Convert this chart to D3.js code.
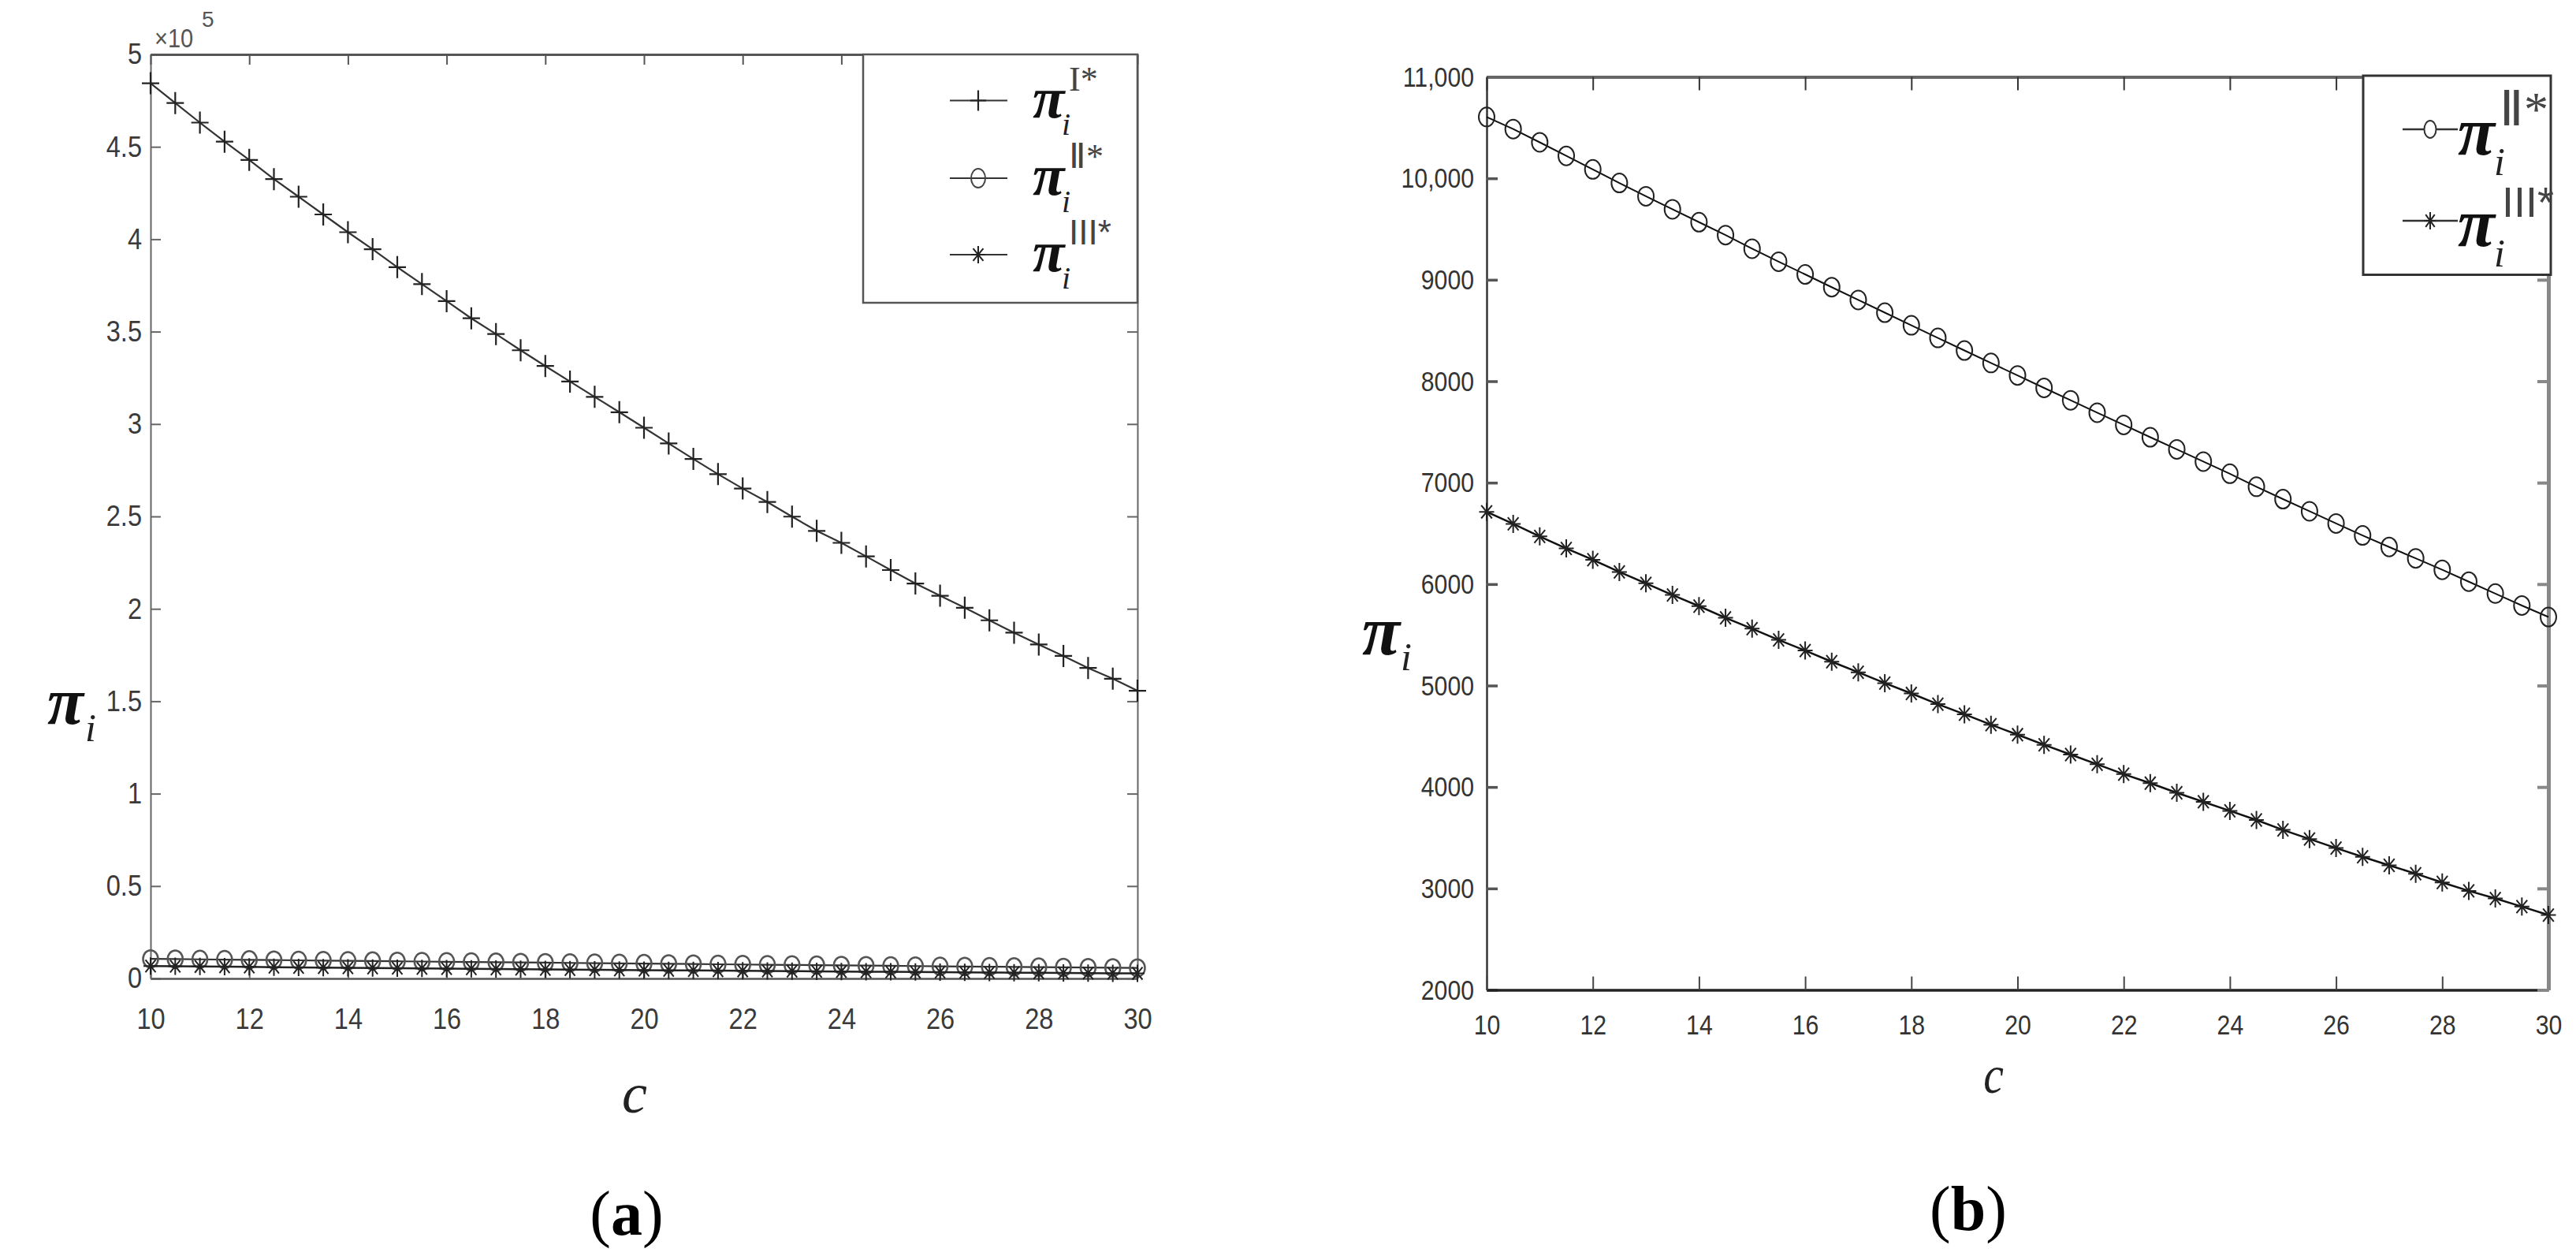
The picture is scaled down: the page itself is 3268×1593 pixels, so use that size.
<!DOCTYPE html>
<html><head><meta charset="utf-8">
<script src="https://cdn.jsdelivr.net/npm/d3@7"></script>
<style>body{margin:0;background:#fff}svg{display:block}</style>
</head><body>
<svg id="chart" width="3268" height="1593"></svg>
<script>
// ---------- data ----------
const cValues = [10,10.5,11,11.5,12,12.5,13,13.5,14,14.5,15,15.5,16,16.5,17,17.5,18,18.5,19,19.5,20,20.5,21,21.5,22,22.5,23,23.5,24,24.5,25,25.5,26,26.5,27,27.5,28,28.5,29,29.5,30];
const piI = [484400,473700,463100,452800,442900,432500,423000,413400,403800,394600,384900,375700,366500,357200,348700,339900,331400,323000,314700,306400,298000,289500,281100,272900,265100,257800,249900,242200,235700,228400,221000,213700,207100,200600,193800,187100,180700,174500,168000,162200,155700];
const piII = [10605,10486,10355,10221,10088,9954,9823,9695,9568,9440,9306,9178,9053,8927,8801,8676,8551,8427,8303,8180,8057,7934,7812,7690,7569,7448,7328,7208,7088,6960,6838,6718,6598,6480,6366,6254,6141,6024,5907,5789,5676];
const piIII = [6712,6594,6470,6352,6240,6120,6008,5893,5783,5668,5561,5450,5345,5235,5131,5024,4922,4817,4717,4614,4516,4416,4320,4224,4127,4038,3943,3854,3765,3675,3577,3487,3398,3312,3228,3145,3059,2976,2901,2821,2738];
const xTicks = [10,12,14,16,18,20,22,24,26,28,30];
const yTicksA = [0,50000,100000,150000,200000,250000,300000,350000,400000,450000,500000];
const yTickLabelsA = ["0","0.5","1","1.5","2","2.5","3","3.5","4","4.5","5"];
const yTicksB = [2000,3000,4000,5000,6000,7000,8000,9000,10000,11000];
const yTickLabelsB = ["2000","3000","4000","5000","6000","7000","8000","9000","10,000","11,000"];
const legendSupA = ["I*","Ⅱ*","III*"];
const legendSupB = ["Ⅱ*","III*"];

// ---------- helpers ----------
const svg = d3.select("#chart");
svg.append("rect").attr("width",3268).attr("height",1593).attr("fill","#fff");
const SERIF = "'Liberation Serif','Times New Roman',serif";
const SANS = "'Liberation Sans',Arial,sans-serif";

function plusPath(cx,cy,w,h){return `M${cx-w/2},${cy}H${cx+w/2}M${cx},${cy-h/2}V${cy+h/2}`;}
function starPath(cx,cy,w,h){
  const a=w*0.36,b=h*0.36;
  return `M${cx-w/2},${cy}H${cx+w/2}M${cx},${cy-h/2}V${cy+h/2}M${cx-a},${cy-b}L${cx+a},${cy+b}M${cx-a},${cy+b}L${cx+a},${cy-b}`;
}

function drawAxes(g, x, y, o){
  const [x0,x1]=x.range(), [y0,y1]=y.range();
  const left = g.append("g").attr("transform",`translate(${x0},0)`)
    .call(d3.axisLeft(y).tickValues(o.yTicks).tickFormat((d,i)=>o.yLabels[i]).tickSizeInner(-o.tickL).tickSizeOuter(0).tickPadding(o.padL));
  left.select(".domain").attr("stroke",o.cLeft).attr("stroke-width",o.wLeft);
  left.selectAll(".tick line").attr("stroke",o.cTickL).attr("stroke-width",o.wTickL);
  left.selectAll(".tick text").attr("font-family",SANS).attr("font-size",o.fs).attr("fill",o.txt)
    .attr("x",-o.padL/o.sx).attr("transform",`scale(${o.sx},1)`);
  const bottom = g.append("g").attr("transform",`translate(0,${y0})`)
    .call(d3.axisBottom(x).tickValues(xTicks).tickFormat(d3.format("d")).tickSizeInner(-o.tickB).tickSizeOuter(0).tickPadding(o.padB));
  bottom.select(".domain").attr("stroke",o.cBottom).attr("stroke-width",o.wBottom);
  bottom.selectAll(".tick line").attr("stroke",o.cTickB).attr("stroke-width",o.wTickB);
  bottom.selectAll(".tick text").attr("font-family",SANS).attr("font-size",o.fs).attr("fill",o.txt)
    .attr("transform",`scale(${o.sx},1)`);
  const top = g.append("g").attr("transform",`translate(0,${y1})`)
    .call(d3.axisTop(x).tickValues(xTicks).tickFormat("").tickSizeInner(-o.tickB).tickSizeOuter(0));
  top.select(".domain").attr("stroke",o.cTop).attr("stroke-width",o.wTop);
  top.selectAll(".tick line").attr("stroke",o.cTickT).attr("stroke-width",o.wTickT);
  const right = g.append("g").attr("transform",`translate(${x1},0)`)
    .call(d3.axisRight(y).tickValues(o.yTicks).tickFormat("").tickSizeInner(-o.tickL).tickSizeOuter(0));
  right.select(".domain").attr("stroke",o.cRight).attr("stroke-width",o.wRight);
  right.selectAll(".tick line").attr("stroke",o.cTickR).attr("stroke-width",o.wTickR);
}

function piLabel(g, x, yBase, fs, sup, supDx, supDy, supFs, supFamily, subDx, subDy, subFs, weight){
  g.append("text").attr("x",x).attr("y",yBase).attr("font-family",SERIF).attr("font-style","italic")
    .attr("font-weight",weight).attr("font-size",fs).attr("fill","#111").text("π");
  if(sup){
    g.append("text").attr("x",x+supDx).attr("y",yBase+supDy).attr("font-family",supFamily)
      .attr("font-size",supFs).attr("fill","#444").text(sup);
  }
  g.append("text").attr("x",x+subDx).attr("y",yBase+subDy).attr("font-family",SERIF).attr("font-style","italic")
    .attr("font-size",subFs).attr("fill","#222").text("i");
}

// ================= Panel (a) =================
const gA = svg.append("g");
const xA = d3.scaleLinear().domain([10,30]).range([191,1443]);
const yA = d3.scaleLinear().domain([0,500000]).range([1241,69]);

drawAxes(gA,xA,yA,{yTicks:yTicksA,yLabels:yTickLabelsA,tickL:13,tickB:13,padL:11,padB:38,fs:37,sx:0.88,txt:"#3a3a3a",
  cLeft:"#666",wLeft:2,cTickL:"#666",wTickL:2,cBottom:"#555",wBottom:2.5,cTickB:"#666",wTickB:2,
  cTop:"#555",wTop:3,cTickT:"#555",wTickT:2,cRight:"#666",wRight:2,cTickR:"#666",wTickR:2});

const lineA = (vals)=>d3.line().x((d,i)=>xA(cValues[i])).y(d=>yA(d))(vals);
gA.append("path").attr("d",lineA(piI)).attr("fill","none").attr("stroke","#333").attr("stroke-width",2.2);
gA.append("g").selectAll("path").data(piI).join("path")
  .attr("d",(d,i)=>plusPath(xA(cValues[i]),yA(d),22,28)).attr("stroke","#222").attr("stroke-width",2.2).attr("fill","none");
gA.append("path").attr("d",lineA(piII)).attr("fill","none").attr("stroke","#333").attr("stroke-width",2.2);
gA.append("g").selectAll("ellipse").data(piII).join("ellipse")
  .attr("cx",(d,i)=>xA(cValues[i])).attr("cy",d=>yA(d)).attr("rx",9.5).attr("ry",11)
  .attr("fill","none").attr("stroke","#555").attr("stroke-width",2.5);
gA.append("path").attr("d",lineA(piIII)).attr("fill","none").attr("stroke","#222").attr("stroke-width",2.5);
gA.append("g").selectAll("path").data(piIII).join("path")
  .attr("d",(d,i)=>starPath(xA(cValues[i]),yA(d),18,22)).attr("stroke","#222").attr("stroke-width",2).attr("fill","none");

gA.append("text").attr("x",196).attr("y",60).attr("font-family",SANS).attr("font-size",33).attr("fill","#555")
  .attr("transform","translate(196,0) scale(0.88,1) translate(-196,0)").text("×10");
gA.append("text").attr("x",256).attr("y",34).attr("font-family",SANS).attr("font-size",28).attr("fill","#555").text("5");

const legA = gA.append("g");
legA.append("rect").attr("x",1095).attr("y",69).attr("width",348).attr("height",315)
  .attr("fill","#fff").attr("stroke","#555").attr("stroke-width",2.5);
const rowsA = [127.5,226,323];
rowsA.forEach((ry,k)=>{
  legA.append("line").attr("x1",1205).attr("x2",1278).attr("y1",ry).attr("y2",ry).attr("stroke","#333").attr("stroke-width",2.2);
  if(k===0) legA.append("path").attr("d",plusPath(1241,ry,20,26)).attr("stroke","#222").attr("stroke-width",2.2);
  if(k===1) legA.append("ellipse").attr("cx",1241).attr("cy",ry).attr("rx",9).attr("ry",12).attr("fill","none").attr("stroke","#444").attr("stroke-width",2);
  if(k===2) legA.append("path").attr("d",starPath(1241,ry,18,22)).attr("stroke","#222").attr("stroke-width",2);
  piLabel(legA,1310,ry+21,74,legendSupA[k],46,-34,44,k===2?SANS:SERIF,37,22,40,"bold");
});

piLabel(gA,60,918,84,null,0,0,0,SERIF,48,22,50,"bold");
gA.append("text").attr("x",805).attr("y",1411).attr("text-anchor","middle").attr("font-family",SERIF)
  .attr("font-style","italic").attr("font-size",72).attr("fill","#222").text("c");
const capA = gA.append("text").attr("x",795).attr("y",1566).attr("text-anchor","middle").attr("font-family",SERIF)
  .attr("font-size",80).attr("fill","#000");
capA.append("tspan").text("(");
capA.append("tspan").attr("font-weight","bold").text("a");
capA.append("tspan").text(")");

// ================= Panel (b) =================
const gB = svg.append("g");
const xB = d3.scaleLinear().domain([10,30]).range([1886,3233]);
const yB = d3.scaleLinear().domain([2000,11000]).range([1255.5,97.5]);

drawAxes(gB,xB,yB,{yTicks:yTicksB,yLabels:yTickLabelsB,tickL:14,tickB:17,padL:16,padB:31,fs:36,sx:0.84,txt:"#333",
  cLeft:"#333",wLeft:2.5,cTickL:"#555",wTickL:3.5,cBottom:"#222",wBottom:3.5,cTickB:"#444",wTickB:2,
  cTop:"#666",wTop:4,cTickT:"#333",wTickT:2,cRight:"#888",wRight:5,cTickR:"#888",wTickR:4});

const lineB = (vals)=>d3.line().x((d,i)=>xB(cValues[i])).y(d=>yB(d))(vals);
gB.append("path").attr("d",lineB(piII)).attr("fill","none").attr("stroke","#111").attr("stroke-width",2);
gB.append("g").selectAll("ellipse").data(piII).join("ellipse")
  .attr("cx",(d,i)=>xB(cValues[i])).attr("cy",d=>yB(d)).attr("rx",10).attr("ry",12)
  .attr("fill","none").attr("stroke","#222").attr("stroke-width",2);
gB.append("path").attr("d",lineB(piIII)).attr("fill","none").attr("stroke","#111").attr("stroke-width",2.5);
gB.append("g").selectAll("path").data(piIII).join("path")
  .attr("d",(d,i)=>starPath(xB(cValues[i]),yB(d),19,23)).attr("stroke","#222").attr("stroke-width",2).attr("fill","none");

const legB = gB.append("g");
legB.append("rect").attr("x",2998).attr("y",96).attr("width",238).attr("height",252.5)
  .attr("fill","#fff").attr("stroke","#333").attr("stroke-width",3);
const rowsB = [164,280];
rowsB.forEach((ry,k)=>{
  legB.append("line").attr("x1",3048).attr("x2",3118).attr("y1",ry).attr("y2",ry).attr("stroke","#333").attr("stroke-width",2.5);
  if(k===0) legB.append("ellipse").attr("cx",3083).attr("cy",ry).attr("rx",7.5).attr("ry",11).attr("fill","#fff").attr("stroke","#333").attr("stroke-width",2);
  if(k===1) legB.append("path").attr("d",starPath(3083,ry,16,22)).attr("stroke","#222").attr("stroke-width",2);
  piLabel(legB,3118,ry+32,86,legendSupB[k],k===0?53:56,-37,k===0?62:54,k===1?SANS:SERIF,46,26,50,"bold");
});

piLabel(gB,1728,830,88,null,0,0,0,SERIF,49,20,50,"bold");
gB.append("text").attr("x",2529).attr("y",1386).attr("text-anchor","middle").attr("font-family",SERIF)
  .attr("font-style","italic").attr("font-size",68).attr("fill","#222")
  .attr("transform","translate(2529,0) scale(0.85,1) translate(-2529,0)").text("c");
const capB = gB.append("text").attr("x",2497).attr("y",1560).attr("text-anchor","middle").attr("font-family",SERIF)
  .attr("font-size",80).attr("fill","#000");
capB.append("tspan").text("(");
capB.append("tspan").attr("font-weight","bold").text("b");
capB.append("tspan").text(")");
</script>
</body></html>
